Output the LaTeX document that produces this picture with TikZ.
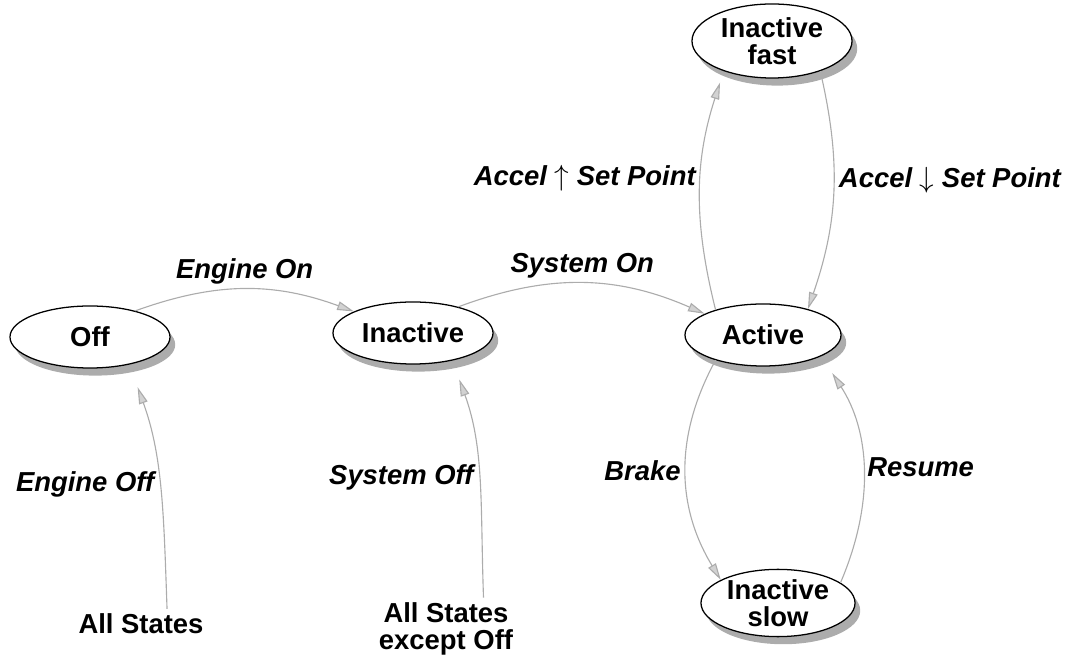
\documentclass[tikz,border=0pt]{standalone}
\usepackage{fontspec}
\setmainfont{Liberation Sans}
\usetikzlibrary{arrows.meta,shapes.geometric,shadows}

\begin{document}
\begin{tikzpicture}[x=0.025cm,y=0.025cm,
    >={Triangle[length=0.42cm,width=0.22cm,fill=gray!35]}]

    \useasboundingbox (0,0) rectangle (1090,657);

    % ============================
    % States
    % ============================

    \tikzstyle{state}=[ellipse,draw=black,fill=white,line width=0.9pt,
        inner sep=0pt,minimum width=4cm,minimum height=1.55cm,align=center,
        font=\fontsize{19.5}{19.5}\selectfont\bfseries,
        drop shadow={shadow xshift=0.13cm,shadow yshift=-0.19cm,
            fill=gray!65,opacity=1}]
    \tikzstyle{src}=[align=center,font=\fontsize{19.5}{19.5}\selectfont\bfseries]
    \tikzstyle{trans}=[->,draw=gray!65,line width=0.8pt]
    \tikzstyle{lbl}=[font=\fontsize{19.5}{19.5}\selectfont\bfseries\itshape]

    \node[state] (off) at (90,320) {Off};
    \node[state] (inactive) at (413,324) {Inactive};
    \node[state,minimum width=3.9cm] (active) at (763,322) {Active};
    \node[state,minimum height=1.85cm] (fast) at (772,616) {Inactive\\fast};
    \node[state,minimum width=3.85cm,minimum height=1.65cm] (slow) at (778,54) {Inactive\\slow};

    \node[src] (all) at (141,33) {All States};
    \node[src] (allbutoff) at (446,28) {All States\\except Off};

    % ============================
    % Transitions
    % ============================

    \draw[trans] (off.30) to[bend left=20]
        node[midway,above,lbl]{Engine On} (inactive.160);
    \draw[trans] (inactive.30) to[bend left=22]
        node[midway,above,lbl]{System On} (active.160);

    % speed changes
    \draw[trans,shorten >=0.3cm] (active.152) to[bend left=16]
        node[pos=0.55,left,lbl]{Accel $\uparrow$ Set Point} (fast.212);
    \draw[trans] (fast.-32) to[bend left=16]
        node[pos=0.45,right,lbl]{Accel $\downarrow$ Set Point} (active.30);
    \draw[trans] (active.208) to[bend right=30]
        node[midway,left,lbl]{Brake} (slow.158);
    \draw[trans,shorten >=0.5cm] (slow.18) to[bend right=28]
        node[midway,right,lbl]{Resume} (active.-20);

    % from everywhere
    \draw[trans,shorten >=0.6cm] (all.30) to[out=92,in=-70]
        node[midway,left,lbl]{Engine Off} (off.-35);
    \draw[trans,shorten >=0.5cm] (allbutoff.40) to[out=92,in=-70]
        node[midway,left,lbl]{System Off} (inactive.-35);
\end{tikzpicture}
\end{document}
